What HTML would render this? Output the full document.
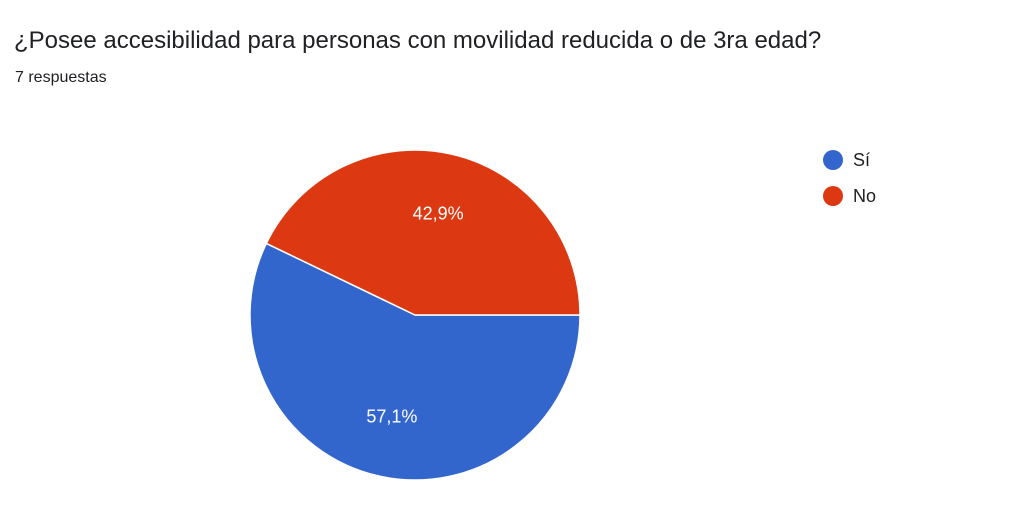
<!DOCTYPE html>
<html><head><meta charset="utf-8"><style>
body{margin:0;width:1024px;height:509px;background:#fff;font-family:"Liberation Sans",Arial,sans-serif;overflow:hidden;position:relative}
#title{position:absolute;left:14px;top:27px;font-size:24px;color:#202124;white-space:nowrap}
#sub{position:absolute;left:15px;top:69px;font-size:16px;color:#202124}
</style></head><body>
<div id="title">¿Posee accesibilidad para personas con movilidad reducida o de 3ra edad?</div>
<div id="sub">7 respuestas</div>
<svg id="chart" width="1024" height="509" style="position:absolute;left:0;top:0"></svg>
<script>
const categories=["Sí","No"];
const values=[4,3];
const colors=["#3366cc","#dc3912"];
const svg=document.getElementById('chart');
const NS="http://www.w3.org/2000/svg";
const cx=415,cy=315,r=165;
const total=values.reduce((a,b)=>a+b,0);
let start=0;
function pt(a,rr){return [cx+rr*Math.cos(a),cy+rr*Math.sin(a)];}
values.forEach((v,i)=>{
  const ang=v/total*2*Math.PI,end=start+ang;
  const [x1,y1]=pt(start,r),[x2,y2]=pt(end,r);
  const p=document.createElementNS(NS,'path');
  p.setAttribute('d',`M${cx},${cy}L${x1},${y1}A${r},${r} 0 ${ang>Math.PI?1:0} 1 ${x2},${y2}Z`);
  p.setAttribute('fill',colors[i]);p.setAttribute('stroke','#fff');p.setAttribute('stroke-width','1.5');
  
  
  svg.appendChild(p);
  const mid=start+ang/2;const [tx,ty]=pt(mid,r*0.63);
  const t=document.createElementNS(NS,'text');
  t.setAttribute('x',tx);t.setAttribute('y',ty+6);t.setAttribute('text-anchor','middle');
  t.setAttribute('fill','#fff');t.setAttribute('font-size','18');
  t.textContent=(v/total*100).toFixed(1).replace('.',',')+'%';
  
  
  svg.appendChild(t);
  const c=document.createElementNS(NS,'circle');
  c.setAttribute('cx',833);c.setAttribute('cy',160+i*36);c.setAttribute('r',10);c.setAttribute('fill',colors[i]);
  
  
  svg.appendChild(c);
  const lt=document.createElementNS(NS,'text');
  lt.setAttribute('x',853);lt.setAttribute('y',166+i*36);lt.setAttribute('font-size','18');lt.setAttribute('fill','#202124');
  lt.textContent=categories[i];
  
  
  svg.appendChild(lt);
  start=end;
});
</script>
</body></html>
